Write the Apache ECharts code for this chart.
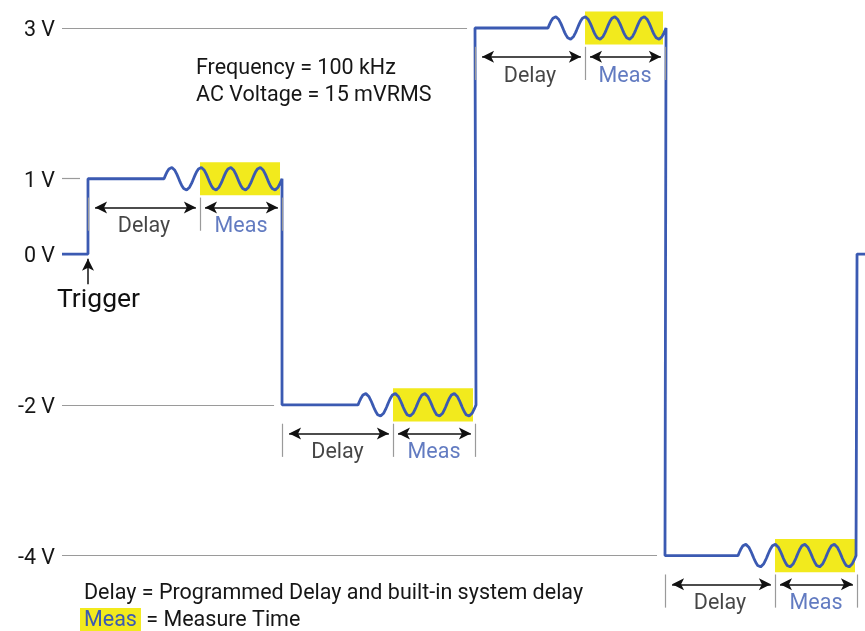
<!DOCTYPE html>
<html>
<head>
<meta charset="utf-8">
<script src="https://cdn.jsdelivr.net/npm/echarts@6/dist/echarts.min.js"></script>
<style>
  html, body { margin: 0; padding: 0; background: #fff; }
  #chart { width: 865px; height: 631px; }
</style>
</head>
<body>
<div id="chart"></div>
<script>
// time axis in microseconds, voltage axis in volts
var X_MAX = 272.2;
var yTicks = [3, 1, 0, -2, -4];
var levels = [1, -2, 3, -4];
var stepStart = [8.81, 74.58, 140.0, 204.4];
var stepEnd = [74.58, 140.0, 204.4, 269.5];
var wiggleStart = [34.58, 100.34, 164.75, 229.15];
var measStart = [46.78, 112.2, 177.29, 241.69];
var measEnd = [73.9, 139.32, 203.73, 268.81];
var endLevel = 0;
var freqKHz = 100;   // Frequency = 100 kHz
var acAmp = 0.15;    // drawn amplitude of the AC signal
var cycles = 4;

var FONT = 'Roboto';
var FS = 21.5;
var BLUE = '#3b5ab2';
var TEXT = '#161616';

// waveform
var wave = [[0, 0], [stepStart[0], 0]];
var period = 1000 / freqKHz;
levels.forEach(function (lv, i) {
    wave.push([stepStart[i], lv]);
    wave.push([wiggleStart[i], lv]);
    var n = cycles * 30;
    for (var k = 1; k <= n; k++) {
        var t = k / n * cycles * period;
        wave.push([wiggleStart[i] + t, lv + acAmp * Math.sin(2 * Math.PI * t / period)]);
    }
    wave.push([stepEnd[i], lv]);
});
wave.push([stepEnd[3], endLevel]);
wave.push([X_MAX, endLevel]);

// partial grid lines, ending just before the step that reaches the level
var gridLines = [];
levels.forEach(function (lv, i) {
    gridLines.push([{coord: [0, lv]}, {coord: [stepStart[i] - 2.7, lv]}]);
});

var measAreas = [], delayArrows = [], measArrows = [], ticks = [];
var delayLabels = [], measLabels = [];
levels.forEach(function (lv, i) {
    measAreas.push([{coord: [measStart[i], lv + 0.22]}, {coord: [measEnd[i], lv - 0.22]}]);
    var ya = lv - 0.38;
    delayArrows.push([{coord: [stepStart[i] + 2.4, ya]}, {coord: [measStart[i] - 1.4, ya]}]);
    measArrows.push([{coord: [measStart[i] + 1.7, ya]}, {coord: [stepEnd[i] - 1.4, ya]}]);
    [stepStart[i], measStart[i], stepEnd[i]].forEach(function (x) {
        ticks.push([{coord: [x, lv - 0.25]}, {coord: [x, lv - 0.69]}]);
    });
    delayLabels.push([(stepStart[i] + measStart[i]) / 2, lv - 0.64, 'Delay']);
    measLabels.push([(measStart[i] + stepEnd[i]) / 2, lv - 0.64, 'Meas']);
});

var chart = echarts.init(document.getElementById('chart'), null, {renderer: 'canvas'});

var font = FS + 'px ' + FONT;
chart.setOption({
    animation: false,
    backgroundColor: '#fff',
    grid: {left: 62, right: 0, top: 5.37, height: 626.07},
    xAxis: {type: 'value', min: 0, max: X_MAX, show: false},
    yAxis: {
        type: 'value', min: -5, max: 3.3,
        axisLine: {show: false}, axisTick: {show: false}, splitLine: {show: false},
        axisLabel: {
            customValues: yTicks, margin: 7,
            formatter: '{v|{value} V}',
            rich: {v: {color: TEXT, fontFamily: FONT, fontSize: FS, padding: [6, 0, 0, 0]}}
        }
    },
    graphic: [
        {type: 'text', left: 196, top: 58, style: {text: 'Frequency = 100 kHz', font: font, fill: TEXT}},
        {type: 'text', left: 196, top: 85, style: {text: 'AC Voltage = 15 mVRMS', font: font, fill: TEXT}},
        {type: 'text', left: 57, top: 287, style: {text: 'Trigger', font: '26.5px Roboto', fill: '#111'}},
        {type: 'text', left: 84, top: 583, style: {text: 'Delay = Programmed Delay and built-in system delay', font: font, fill: TEXT}},
        {type: 'text', left: 80, top: 608, style: {
            text: '{m|Meas} = Measure Time', font: font, fill: TEXT,
            rich: {m: {backgroundColor: '#f2ea1d', fill: BLUE, font: font, padding: [2, 4, 1, 4]}}
        }}
    ],
    series: [
        {
            type: 'line', data: [], silent: true, z: 1,
            markArea: {silent: true, itemStyle: {color: '#f2ea1d', opacity: 1}, data: measAreas}
        },
        {
            type: 'line', data: [], silent: true, z: 2,
            markLine: {
                silent: true, symbol: 'none', label: {show: false},
                lineStyle: {color: '#9a9a9a', width: 1.2, type: 'solid'},
                data: gridLines.concat(ticks)
            }
        },
        {
            type: 'line', data: [], silent: true, z: 2,
            markLine: {
                silent: true, symbol: ['arrow', 'arrow'], symbolSize: [9, 12], label: {show: false},
                lineStyle: {color: '#111', width: 1.5, type: 'solid'},
                data: delayArrows.concat(measArrows)
            }
        },
        {
            type: 'line', data: [], silent: true, z: 2,
            markLine: {
                silent: true, symbol: ['none', 'arrow'], symbolSize: [9, 12], label: {show: false},
                lineStyle: {color: '#111', width: 1.5, type: 'solid'},
                data: [[{coord: [stepStart[0], -0.4]}, {coord: [stepStart[0], -0.06]}]]
            }
        },
        {
            type: 'line', data: wave, z: 3, showSymbol: false, silent: true,
            lineStyle: {color: BLUE, width: 2.8}
        },
        {
            type: 'scatter', data: delayLabels, symbolSize: 0, silent: true, z: 4,
            label: {show: true, position: 'inside', formatter: function (p) { return p.value[2]; },
                color: TEXT, fontFamily: FONT, fontSize: FS}
        },
        {
            type: 'scatter', data: measLabels, symbolSize: 0, silent: true, z: 4,
            label: {show: true, position: 'inside', formatter: function (p) { return p.value[2]; },
                color: BLUE, fontFamily: FONT, fontSize: FS}
        }
    ]
});
</script>
</body>
</html>
